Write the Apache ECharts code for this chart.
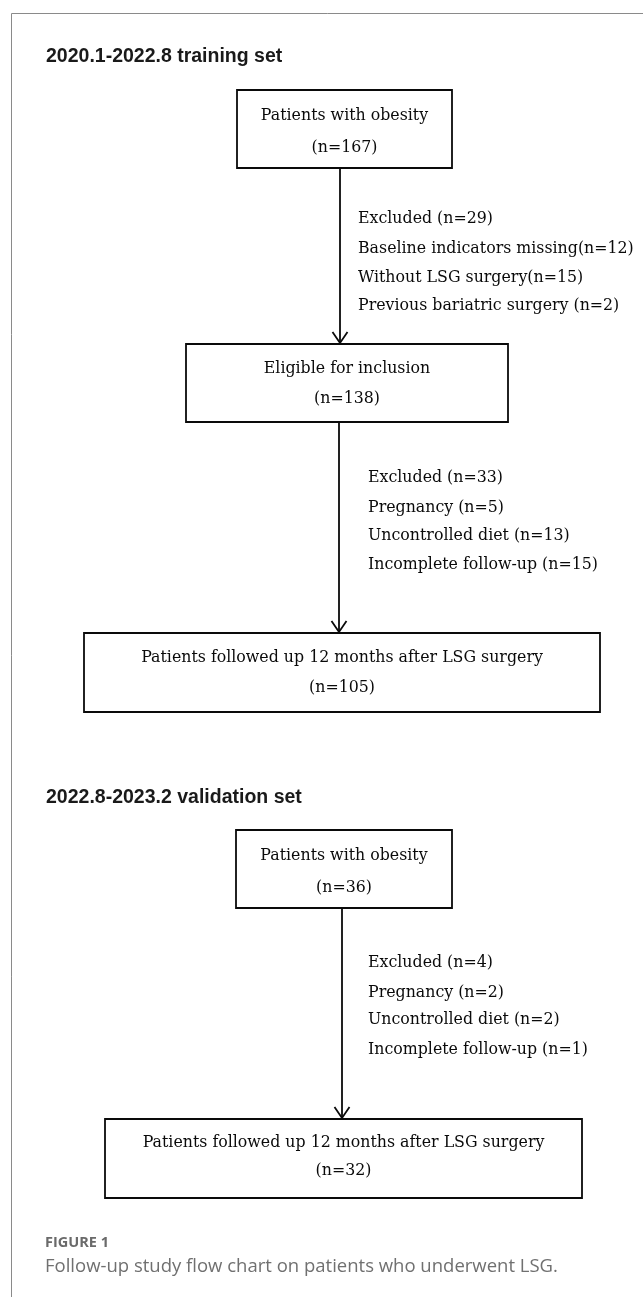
<!DOCTYPE html>
<html><head><meta charset="utf-8">
<script src="https://cdn.jsdelivr.net/npm/echarts@6/dist/echarts.min.js"></script>
<style>html,body{margin:0;padding:0;background:#fff}#c{width:643px;height:1297px}</style>
</head><body><div id="c"></div>
<script>
// ---------- data ----------
const sectionTitles = ["2020.1-2022.8 training set", "2022.8-2023.2 validation set"];
const trainingStages = ["Patients with obesity", "Eligible for inclusion", "Patients followed up 12 months after LSG surgery"];
const trainingCounts = [167, 138, 105];
const trainingExcl1Labels = ["Excluded ", "Baseline indicators missing", "Without LSG surgery", "Previous bariatric surgery "];
const trainingExcl1Counts = [29, 12, 15, 2];
const trainingExcl2Labels = ["Excluded ", "Pregnancy ", "Uncontrolled diet ", "Incomplete follow-up "];
const trainingExcl2Counts = [33, 5, 13, 15];
const validationStages = ["Patients with obesity", "Patients followed up 12 months after LSG surgery"];
const validationCounts = [36, 32];
const validationExclLabels = ["Excluded ", "Pregnancy ", "Uncontrolled diet ", "Incomplete follow-up "];
const validationExclCounts = [4, 2, 2, 1];
const figureLabel = "FIGURE 1";
const figureCaption = "Follow-up study flow chart on patients who underwent LSG.";

// ---------- layout (chart units = px) ----------
const W = 643, H = 1297;
const boxLayout = [
  {x0: 237, x1: 452, y0: 90,   y1: 168,  l1: 116,  l2: 148},
  {x0: 186, x1: 508, y0: 344,  y1: 422,  l1: 369,  l2: 399},
  {x0: 84,  x1: 600, y0: 633,  y1: 712,  l1: 658,  l2: 688},
  {x0: 236, x1: 452, y0: 830,  y1: 908,  l1: 856,  l2: 888},
  {x0: 105, x1: 582, y0: 1119, y1: 1198, l1: 1143, l2: 1171}
];
const arrowLayout = [
  {x: 340, y0: 168, y1: 344},
  {x: 339, y0: 422, y1: 633},
  {x: 342, y0: 908, y1: 1119}
];
const exclLayout = [
  {x: 358, ys: [219, 249, 278, 306]},
  {x: 368, ys: [478, 508, 536, 565]},
  {x: 368, ys: [963, 993, 1020, 1050]}
];
const titleLayout = [{x: 46, y: 57}, {x: 46, y: 798}];
const captionLayout = {x: 45, y1: 1243, y2: 1267};

const stageNames = trainingStages.concat(validationStages);
const stageCounts = trainingCounts.concat(validationCounts);
const exclGroups = [
  [trainingExcl1Labels, trainingExcl1Counts],
  [trainingExcl2Labels, trainingExcl2Counts],
  [validationExclLabels, validationExclCounts]
];

const SERIF = '"DejaVu Serif", serif';
const BODY_FONT = '15.8px ' + SERIF;
const INK = '#0a0a0a';
const LW = 1.8;

const chart = echarts.init(document.getElementById('c'), null, {renderer: 'canvas'});

function boxRender(params, api) {
  const b = boxLayout[params.dataIndex];
  const p0 = api.coord([b.x0, b.y0]);
  const p1 = api.coord([b.x1, b.y1]);
  const cx = (p0[0] + p1[0]) / 2;
  return {
    type: 'group',
    children: [
      {type: 'rect', shape: {x: p0[0], y: p0[1], width: p1[0] - p0[0], height: p1[1] - p0[1]},
       style: {fill: '#fff', stroke: INK, lineWidth: LW}},
      {type: 'text', x: cx, y: api.coord([0, b.l1])[1],
       style: {text: stageNames[params.dataIndex], font: BODY_FONT, fill: INK, align: 'center', verticalAlign: 'middle'}},
      {type: 'text', x: cx, y: api.coord([0, b.l2])[1],
       style: {text: '(n=' + stageCounts[params.dataIndex] + ')', font: BODY_FONT, fill: INK, align: 'center', verticalAlign: 'middle'}}
    ]
  };
}

function arrowRender(params, api) {
  const a = arrowLayout[params.dataIndex];
  const t = api.coord([a.x, a.y0]);
  const e = api.coord([a.x, a.y1]);
  const x = t[0];
  return {
    type: 'group',
    children: [
      {type: 'line', shape: {x1: x, y1: t[1], x2: x, y2: e[1] - 1}, style: {stroke: INK, lineWidth: LW}},
      {type: 'polyline', shape: {points: [[x - 7.5, e[1] - 12], [x, e[1] - 1], [x + 7.5, e[1] - 12]]}, style: {stroke: INK, lineWidth: LW, fill: null}}
    ]
  };
}

function exclRender(params, api) {
  const g = exclGroups[params.dataIndex];
  const L = exclLayout[params.dataIndex];
  const children = g[0].map((lab, i) => ({
    type: 'text', x: api.coord([L.x, 0])[0], y: api.coord([0, L.ys[i]])[1],
    style: {text: lab + '(n=' + g[1][i] + ')', font: BODY_FONT, fill: INK, align: 'left', verticalAlign: 'middle'}
  }));
  return {type: 'group', children};
}

function titleRender(params, api) {
  const t = titleLayout[params.dataIndex];
  const p = api.coord([t.x, t.y]);
  return {type: 'text', x: p[0], y: p[1],
    style: {text: sectionTitles[params.dataIndex], font: 'bold 19.5px "Liberation Sans", Arial, sans-serif', fill: '#1a1a1a', align: 'left', verticalAlign: 'middle'}};
}

function frameRender(params, api) {
  const c = api.coord([11, 13]);
  const r = api.coord([W, 13]);
  const b = api.coord([11, H]);
  const x = Math.round(c[0]) + 0.5, y = Math.round(c[1]) + 0.5;
  const p1 = api.coord([captionLayout.x, captionLayout.y1]);
  const p2 = api.coord([captionLayout.x, captionLayout.y2]);
  return {type: 'group', children: [
    {type: 'polyline', shape: {points: [[r[0], y], [x, y], [x, b[1]]]}, style: {stroke: '#8a8a8a', lineWidth: 1, fill: null}},
    {type: 'text', x: p1[0], y: p1[1], style: {text: figureLabel, font: 'bold 14.5px "Open Sans", sans-serif', fill: '#6a6a6a', align: 'left', verticalAlign: 'middle'}},
    {type: 'text', x: p2[0], y: p2[1], style: {text: figureCaption, font: '18.5px "Open Sans", sans-serif', fill: '#707070', align: 'left', verticalAlign: 'middle'}}
  ]};
}

chart.setOption({
  animation: false,
  grid: {left: 0, right: 0, top: 0, bottom: 0},
  xAxis: {type: 'value', min: 0, max: W, show: false},
  yAxis: {type: 'value', min: 0, max: H, inverse: true, show: false},
  series: [
    {type: 'custom', name: 'frame', silent: true, clip: false, renderItem: frameRender, data: [[0, 0]]},
    {type: 'custom', name: 'titles', silent: true, clip: false, renderItem: titleRender, data: sectionTitles.map((_, i) => [i, i])},
    {type: 'custom', name: 'arrows', silent: true, clip: false, renderItem: arrowRender, data: arrowLayout.map((_, i) => [i, i])},
    {type: 'custom', name: 'exclusions', silent: true, clip: false, renderItem: exclRender, data: exclGroups.map((_, i) => [i, i])},
    {type: 'custom', name: 'boxes', silent: true, clip: false, renderItem: boxRender, data: stageNames.map((_, i) => [i, i])}
  ]
});
</script></body></html>
